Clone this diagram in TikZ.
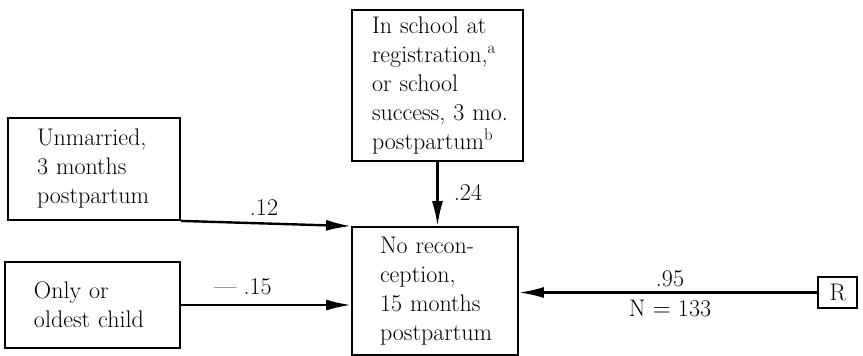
\documentclass[tikz,border=0pt]{standalone}
\usetikzlibrary{arrows.meta}
\begin{document}
\begin{tikzpicture}[x=1pt,y=-1pt,
  box/.style={draw,line width=1.8pt,align=left,inner xsep=0pt,inner ysep=0pt,
    font=\fontsize{24}{29}\selectfont},
  conn/.style={line width=2.4pt,-{Latex[length=25pt,width=11pt]}},
  lbl/.style={font=\fontsize{24}{26}\selectfont,inner sep=0pt}]
\useasboundingbox (0,0) rectangle (863,356);
% boxes
\node[box,minimum width=172pt,minimum height=102pt,text width=114pt] (u) at (94,169) {Unmarried,\\3~months\\postpartum};
\node[box,minimum width=175pt,minimum height=86pt,text width=117pt] (o) at (92.5,305) {Only~or\\oldest~child};
\node[box,minimum width=171pt,minimum height=151pt,text width=131pt] (t) at (437.5,85.5) {In~school~at\\registration,\textsuperscript{a}\\or~school\\success,~3~mo.\\postpartum\textsuperscript{b}};
\node[box,minimum width=166pt,minimum height=128pt,text width=110pt] (c) at (435,291) {No~recon-\\ception,\\15~months\\postpartum};
\node[box,minimum width=39pt,minimum height=31pt,text width=16pt,align=center] (r) at (837.5,292.5) {R};
% connectors
\draw[conn] (u.south east) -- (c.north west);
\draw[conn] (o.east) -- (o.east -| c.west);
\draw[conn] (t.south) -- (t.south |- c.north);
\draw[conn] (r.west) -- (r.west -| c.east);
% labels
\node[lbl] (l12) at (264,208) {.12};
\node[lbl] (l24) at (468,192) {.24};
\node[lbl] (l15) at (243,287) {--- .15};
\node[lbl] (l95) at (670,279) {.95};
\node[lbl] (ln) at (670,308) {N $=$ 133};
\end{tikzpicture}
\end{document}
